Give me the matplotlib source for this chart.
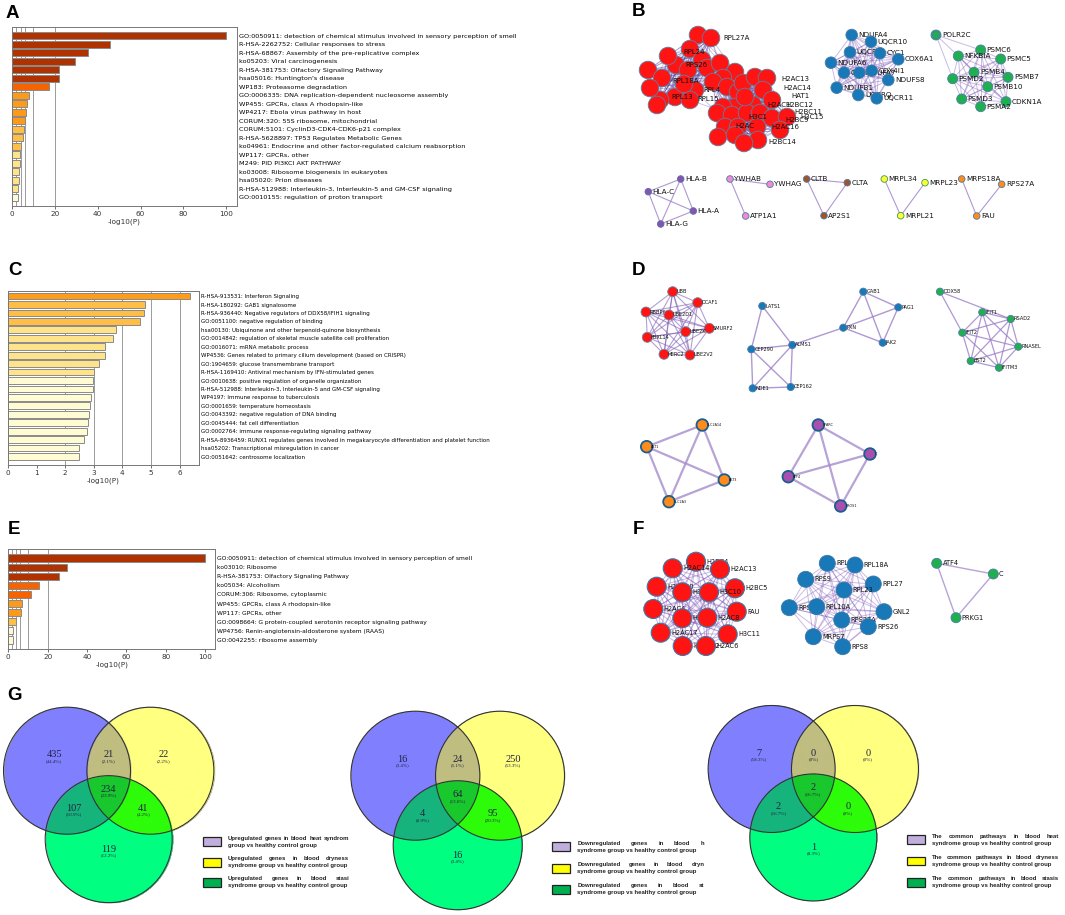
import itertools
import numpy as np
import matplotlib
matplotlib.use("Agg")
import matplotlib.pyplot as plt
from matplotlib.patches import Circle, Rectangle

W, H = 1065, 915

# ================= DATA: enrichment bars ===================

a_terms = [
    "GO:0050911: detection of chemical stimulus involved in sensory perception of smell",
    "R-HSA-2262752: Cellular responses to stress",
    "R-HSA-68867: Assembly of the pre-replicative complex",
    "ko05203: Viral carcinogenesis",
    "R-HSA-381753: Olfactory Signaling Pathway",
    "hsa05016: Huntington's disease",
    "WP183: Proteasome degradation",
    "GO:0006335: DNA replication-dependent nucleosome assembly",
    "WP455: GPCRs, class A rhodopsin-like",
    "WP4217: Ebola virus pathway in host",
    "CORUM:320: 55S ribosome, mitochondrial",
    "CORUM:5101: CyclinD3-CDK4-CDK6-p21 complex",
    "R-HSA-5628897: TP53 Regulates Metabolic Genes",
    "ko04961: Endocrine and other factor-regulated calcium reabsorption",
    "WP117: GPCRs, other",
    "M249: PID PI3KCI AKT PATHWAY",
    "ko03008: Ribosome biogenesis in eukaryotes",
    "hsa05020: Prion diseases",
    "R-HSA-512988: Interleukin-3, Interleukin-5 and GM-CSF signaling",
    "GO:0010155: regulation of proton transport",
]
a_vals = [100, 45.7, 35.6, 29.2, 22.1, 21.8, 17.3, 8.1, 7.2, 6.5,
          6.2, 5.6, 5.0, 4.4, 3.7, 3.7, 3.4, 3.1, 3.0, 3.0]
a_cols = ["#B03200"] * 6 + ["#F76300"] + ["#FD9A1A"] * 4 + ["#FFBE45"] * 3 + ["#FFE38A"] * 5 + ["#FFF7D6"]

c_terms = [
    "R-HSA-913531: Interferon Signaling",
    "R-HSA-180292: GAB1 signalosome",
    "R-HSA-936440: Negative regulators of DDX58/IFIH1 signaling",
    "GO:0051100: negative regulation of binding",
    "hsa00130: Ubiquinone and other terpenoid-quinone biosynthesis",
    "GO:0014842: regulation of skeletal muscle satellite cell proliferation",
    "GO:0016071: mRNA metabolic process",
    "WP4536: Genes related to primary cilium development (based on CRISPR)",
    "GO:1904659: glucose transmembrane transport",
    "R-HSA-1169410: Antiviral mechanism by IFN-stimulated genes",
    "GO:0010638: positive regulation of organelle organization",
    "R-HSA-512988: Interleukin-3, Interleukin-5 and GM-CSF signaling",
    "WP4197: Immune response to tuberculosis",
    "GO:0001659: temperature homeostasis",
    "GO:0043392: negative regulation of DNA binding",
    "GO:0045444: fat cell differentiation",
    "GO:0002764: immune response-regulating signaling pathway",
    "R-HSA-8936459: RUNX1 regulates genes involved in megakaryocyte differentiation and platelet function",
    "hsa05202: Transcriptional misregulation in cancer",
    "GO:0051642: centrosome localization",
]
c_vals = [6.35, 4.79, 4.75, 4.60, 3.77, 3.68, 3.40, 3.38, 3.20, 3.02,
          2.98, 2.99, 2.91, 2.88, 2.84, 2.81, 2.75, 2.65, 2.50, 2.49]
c_cols = ["#FF9C1A"] + ["#FFBE45"] * 3 + ["#FFE38A"] * 6 + ["#FFFBD2"] * 10

e_terms = [
    "GO:0050911: detection of chemical stimulus involved in sensory perception of smell",
    "ko03010: Ribosome",
    "R-HSA-381753: Olfactory Signaling Pathway",
    "ko05034: Alcoholism",
    "CORUM:306: Ribosome, cytoplasmic",
    "WP455: GPCRs, class A rhodopsin-like",
    "WP117: GPCRs, other",
    "GO:0098664: G protein-coupled serotonin receptor signaling pathway",
    "WP4756: Renin-angiotensin-aldosterone system (RAAS)",
    "GO:0042255: ribosome assembly",
]
e_vals = [100, 30.0, 25.6, 15.6, 11.4, 6.8, 6.6, 4.1, 2.5, 2.4]
e_cols = ["#B03200"] * 3 + ["#F76300"] * 2 + ["#FD9A1A"] * 2 + ["#FFBE45"] + ["#FFF7D6"] * 2

# ================= DATA: networks (pixel layout) ===================

b_red_x = [698, 711, 690, 702, 676, 648, 662, 688, 707, 720, 735, 723, 695, 675, 660, 657, 690, 668, 650, 684,
           713, 727, 738, 743, 755, 767, 763, 772, 753, 735, 723, 717, 732, 747, 760, 772, 725, 738, 757, 718,
           735, 758, 787, 745, 780, 744]
b_red_y = [35, 38, 49, 60, 65, 70, 78, 70, 68, 63, 72, 78, 90, 97, 100, 105, 100, 56, 88, 84,
           82, 87, 92, 83, 77, 78, 90, 100, 105, 107, 107, 113, 115, 113, 113, 118, 127, 127, 127, 137,
           135, 140, 117, 97, 130, 143]
b_red_labels = [("RPL27A", 723, 38), ("RPL24", 683, 52), ("RPS26", 685, 65), ("RPL18A", 672, 81),
                ("RPL13", 671, 97), ("RPL15", 697, 99), ("RPL4", 703, 90), ("H2AC13", 781, 79),
                ("H2AC14", 783, 88), ("HAT1", 791, 96), ("H2BC12", 785, 105), ("H2BC11", 794, 112),
                ("H3C15", 800, 117), ("H2BC9", 785, 120), ("H2AC1", 767, 105), ("H3C1", 748, 117),
                ("H2AC16", 771, 127), ("H2BC14", 768, 142), ("H2AC", 735, 126)]
b_red_split = 20   # first nodes: ribosomal group, rest: histone group

b_blue = [("NDUFA4", 851.7, 35), ("UQCR10", 871, 41.7), ("UQCRH", 850, 52.3), ("CYC1", 880, 53.3),
          ("COX6A1", 898.3, 59.3), ("NDUFA6", 831, 62.7), ("COX6C", 844, 72.7), ("NDUFA7", 859.3, 72.7),
          ("COX4I1", 871.7, 70.7), ("NDUFS8", 888.3, 80), ("NDUFB1", 836.7, 87.7), ("UQCRQ", 858.3, 95),
          ("UQCR11", 876.7, 98.3)]
b_green = [("PSMC6", 980.7, 50), ("NFKBIA", 958.3, 56), ("PSMC5", 1000.7, 59), ("PSMB4", 974, 72.3),
           ("PSMB7", 1008, 77.3), ("PSMD2", 952.7, 78.7), ("PSMB10", 987.7, 86.7), ("PSMD3", 961.7, 99),
           ("CDKN1A", 1006, 101.7), ("PSMA2", 980.7, 106.7)]
b_polr = [("POLR2C", 936, 35)]
b_polr_edges = [("POLR2C", "NFKBIA"), ("POLR2C", "PSMD2"), ("POLR2C", "PSMC6")]

b_hla = [("HLA-B", 680.7, 179), ("HLA-C", 648.3, 191.7), ("HLA-A", 693.3, 211), ("HLA-G", 660.7, 224)]
b_hla_edges = [("HLA-C", "HLA-B"), ("HLA-C", "HLA-A"), ("HLA-B", "HLA-A"), ("HLA-B", "HLA-G"),
               ("HLA-G", "HLA-A"), ("HLA-C", "HLA-G")]
b_ywha = [("YWHAB", 730, 179), ("YWHAG", 770, 184.3), ("ATP1A1", 745.7, 216)]
b_ywha_edges = [("YWHAB", "YWHAG"), ("YWHAB", "ATP1A1")]
b_clt = [("CLTB", 806.7, 179), ("CLTA", 847.3, 182.7), ("AP2S1", 824, 215.7)]
b_clt_edges = [("CLTB", "CLTA"), ("CLTB", "AP2S1"), ("CLTA", "AP2S1")]
b_mrpl = [("MRPL34", 884.3, 179), ("MRPL23", 925, 182.7), ("MRPL21", 900.7, 215.7)]
b_mrpl_edges = [("MRPL34", "MRPL21"), ("MRPL23", "MRPL21")]
b_rps = [("MRPS18A", 961.7, 179), ("RPS27A", 1001.7, 184.3), ("FAU", 976.7, 216)]
b_rps_edges = [("MRPS18A", "FAU"), ("RPS27A", "FAU")]

d_red = [("UBB", 672.7, 291.7), ("DCAF1", 697.7, 302.7), ("RBBP6", 646, 312), ("UBE2D1", 669, 315),
         ("SMURF2", 709.3, 328.3), ("UBE2K", 685.7, 331.7), ("FBXL14", 647.3, 337.3),
         ("HERC2", 664, 354.3), ("UBE2V2", 690, 355)]
d_blue = [("LATS1", 762.3, 306), ("CEP290", 751.3, 349.3), ("ALMS1", 792.3, 345), ("NDE1", 752.7, 388.3),
          ("CEP162", 790.7, 387), ("PXN", 843.3, 327.7), ("GAB1", 863.3, 291.7), ("PAG1", 898.3, 307.3),
          ("JAK2", 882.7, 342.7)]
d_blue_edges = [("LATS1", "CEP290"), ("LATS1", "ALMS1"), ("CEP290", "ALMS1"), ("CEP290", "NDE1"),
                ("CEP290", "CEP162"), ("ALMS1", "NDE1"), ("ALMS1", "CEP162"), ("NDE1", "CEP162"),
                ("ALMS1", "PXN"), ("PXN", "PAG1"), ("GAB1", "PXN"), ("GAB1", "PAG1"), ("GAB1", "JAK2"),
                ("PAG1", "JAK2"), ("PXN", "JAK2")]
d_green = [("IFIT1", 982.3, 312.3), ("RSAD2", 1010.7, 319), ("IFIT2", 962.3, 332.7),
           ("RNASEL", 1018.3, 346.7), ("BST2", 970.7, 361), ("IFITM3", 999, 367.7)]
d_ddx = [("DDX58", 940, 291.7)]
d_ddx_edges = [("DDX58", "RSAD2"), ("DDX58", "IFIT2")]
d_orange = [("AKT1", 646.7, 446.7), ("SLC2A14", 702.3, 425), ("AKT3", 724.3, 480), ("SLC2A3", 669, 501.7)]
d_purple = [("SPARC", 818.3, 425), ("C", 870, 454), ("ATF4", 788.3, 476.7), ("PROS1", 840.7, 506)]

f_red = [("H2BC4", 696, 561.7), ("H2AC14", 672.7, 568.3), ("H2AC13", 720, 569.3), ("H2AC20", 656.7, 586.7),
         ("H2BC5", 735, 588.3), ("H3C1", 682.3, 592.3), ("H3C10", 709, 592.3), ("H2AC4", 653.3, 609),
         ("FAU", 736.7, 611.7), ("H3C12", 682.3, 618.3), ("H2AC8", 707.3, 617.7), ("H2AC17", 660.7, 632.7),
         ("H3C11", 727.7, 634.3), ("H2BC12", 682.7, 646), ("H2AC6", 706, 646)]
f_blue = [("RPL31", 827.3, 563.3), ("RPL18A", 855, 565), ("RPS9", 805.7, 579.3), ("RPL27", 873.3, 584),
          ("RPL23", 844, 590), ("RPS15", 789.3, 607.7), ("RPL10A", 816.7, 606.7), ("GNL2", 884, 611.7),
          ("RPS27A", 841.7, 620), ("RPS26", 868.3, 626.7), ("MRPS7", 813.3, 636.7), ("RPS8", 842.7, 646.7)]
f_green = [("ATF4", 936.7, 563.3), ("C", 993.3, 574), ("PRKG1", 956, 617.7)]

# ================= DATA: Venn ===================

venn_up = [435, 21, 22, 107, 234, 41, 119]      # A, AB, B, AC, ABC, BC, C
venn_down = [16, 24, 250, 4, 64, 95, 16]
venn_path = [7, 0, 0, 2, 2, 0, 1]
leg_up = ["Upregulated genes in blood heat syndrom|group vs healthy control group",
          "Upregulated genes in blood dryness|syndrome group vs healthy control group",
          "Upregulated genes in blood stasi|syndrome group vs healthy control group"]
leg_down = ["Downregulated genes in blood h|syndrome group vs healthy control group",
            "Downregulated genes in blood dryn|syndrome group vs healthy control group",
            "Downregulated genes in blood st|syndrome group vs healthy control group"]
leg_path = ["The common pathways in blood heat|syndrome group vs healthy control group",
            "The common pathways in blood dryness|syndrome group vs healthy control group",
            "The common pathways in blood stasis|syndrome group vs healthy control group"]

# ================= FIGURE ===================

fig = plt.figure(figsize=(W / 100, H / 100), dpi=100)


def px_axes(l, t, r, b):
    return fig.add_axes([l / W, 1 - b / H, (r - l) / W, (b - t) / H])


def bar_panel(box, terms, vals, cols, xmax, ticks, grid, ylim, fs):
    ax = px_axes(*box)
    y = np.arange(len(vals))
    for g in grid:
        ax.axvline(g, color="#9a9a9a", lw=0.7, zorder=0)
    ax.barh(y, vals, height=0.8, color=cols, edgecolor="#8a8a8a", lw=0.7, zorder=2)
    ax.set_xlim(0, xmax)
    ax.set_ylim(*ylim)
    ax.set_yticks(y)
    ax.set_yticklabels(terms, fontsize=fs)
    ax.yaxis.set_ticks_position("right")
    ax.tick_params(axis="y", length=0, pad=1.5)
    ax.set_xticks(ticks)
    ax.tick_params(axis="x", labelsize=5.2, length=2, width=0.5, pad=1.5, colors="#333333")
    ax.set_xlabel("-log10(P)", fontsize=5.2, labelpad=1.5, color="#333333")
    for s in ax.spines.values():
        s.set_color("#777777")
        s.set_linewidth(0.7)
    return ax


bar_panel((12, 27.3, 237, 205.7), a_terms, a_vals, a_cols, 105, [0, 20, 40, 60, 80, 100],
          [2, 4, 6, 10, 20], (20, -1), 4.65)
bar_panel((8, 291, 199, 465), c_terms, c_vals, c_cols, 6.68, [0, 1, 2, 3, 4, 5, 6],
          [2, 3, 4, 5, 6], (20, -0.6), 3.98)
bar_panel((8.3, 549, 215, 649), e_terms, e_vals, e_cols, 105, [0, 20, 40, 60, 80, 100],
          [2, 4, 6, 10, 20], (10, -1), 4.3)

# overlay in pixel coordinates for networks, venns and letters
ov = fig.add_axes([0, 0, 1, 1])
ov.set_xlim(0, W)
ov.set_ylim(H, 0)
ov.axis("off")
ov.patch.set_alpha(0)


def draw_net(nodes, edges, color, r, ec="#4a7ca8", elw=0.6, ecol="#9b7fc8", lw=1.0,
             ealpha=0.8, fs=5.0, dx=None, labels=True):
    pos = {n: (x, y) for n, x, y in nodes}
    for a, b in edges:
        if isinstance(a, int):
            a, b = nodes[a][0], nodes[b][0]
        ov.plot([pos[a][0], pos[b][0]], [pos[a][1], pos[b][1]], color=ecol, lw=lw,
                alpha=ealpha, zorder=2, solid_capstyle="round")
    off = r + 0.8 if dx is None else dx
    for i, (n, x, y) in enumerate(nodes):
        ov.add_patch(Circle((x, y), r, fc=color, ec=ec, lw=elw, zorder=10 + 2 * i))
        if labels and n:
            ov.text(x + off, y, n, fontsize=fs, va="center", ha="left", color="#111111",
                    zorder=11 + 2 * i)


def clique(n):
    return list(itertools.combinations(range(n), 2))


# --- B ---
b_red_nodes = [("r%d" % i, x, y) for i, (x, y) in enumerate(zip(b_red_x, b_red_y))]
b_red_edges = list(itertools.combinations(range(b_red_split), 2)) + \
    list(itertools.combinations(range(b_red_split, len(b_red_x)), 2)) + [(10, 20), (11, 21), (12, 31), (16, 32)]
draw_net(b_red_nodes, b_red_edges, "#FF1414", 8.8, ec="#5f7fa0", elw=0.6, ecol="#3f2a95",
         lw=0.6, ealpha=0.3, labels=False)
for t, x, y in b_red_labels:
    ov.text(x, y, t, fontsize=5, va="center", ha="left", color="#111111", zorder=200)

draw_net(b_blue, clique(len(b_blue)), "#1878B8", 5.8, ecol="#8a68c0", lw=0.7, ealpha=0.45, fs=5.2)
draw_net(b_polr + b_green, [(i + 1, j + 1) for i, j in clique(len(b_green))] + b_polr_edges,
         "#20AF4E", 5.0, ecol="#8a68c0", lw=0.7, ealpha=0.45, fs=5.2)
ov.add_patch(Circle(b_polr[0][1:], 3.3, fc="#20AF4E", ec="#4a7ca8", lw=0.6, zorder=90))

draw_net(b_hla, b_hla_edges, "#8E4FB0", 3.3, lw=0.8, fs=5.2)
draw_net(b_ywha, b_ywha_edges, "#F08CD0", 3.3, lw=0.8, fs=5.2)
draw_net(b_clt, b_clt_edges, "#A5522A", 3.3, lw=0.8, fs=5.2)
draw_net(b_mrpl, b_mrpl_edges, "#FFFF33", 3.3, ec="#3a9a50", lw=0.8, fs=5.2)
draw_net(b_rps, b_rps_edges, "#FF8C1A", 3.3, lw=0.8, fs=5.2)

# --- D ---
draw_net(d_red, clique(len(d_red)), "#FF1414", 5.0, ec="#6c8ba8", ecol="#8060b8", lw=0.8,
         ealpha=0.6, fs=3.6, dx=3.5)
draw_net(d_blue, d_blue_edges, "#1878B8", 3.6, ecol="#9b7fc8", lw=1.0, fs=3.6, dx=3.0)
draw_net(d_ddx + d_green, [(i + 1, j + 1) for i, j in clique(len(d_green))] + d_ddx_edges,
         "#20AF4E", 3.6, ecol="#9b7fc8", lw=0.9, fs=3.6, dx=3.0)
draw_net(d_orange, clique(4), "#FF8C1A", 5.8, ec="#1a5e8e", elw=1.3, ecol="#a58ccc", lw=1.6,
         fs=2.4, dx=4.5)
draw_net(d_purple, clique(4), "#A84FB0", 5.8, ec="#1a5e8e", elw=1.3, ecol="#a58ccc", lw=1.6,
         fs=2.4, dx=4.5)

# --- F ---
draw_net(f_red, clique(len(f_red)), "#FF1414", 9.5, ec="#3a78a8", elw=0.8, ecol="#7d55b8",
         lw=0.7, ealpha=0.4, fs=4.8)
draw_net(f_blue, clique(len(f_blue)), "#1878B8", 8.0, ec="#3a78a8", elw=0.6, ecol="#7d55b8",
         lw=0.7, ealpha=0.4, fs=4.8)
draw_net(f_green, clique(3), "#20AF4E", 5.0, ecol="#a58ccc", lw=1.0, fs=4.8)

# --- G: venns ---
region_rgb = {1: (128, 128, 255), 2: (255, 255, 128), 4: (0, 255, 128), 3: (192, 189, 128),
              5: (22, 180, 125), 6: (45, 252, 10), 7: (25, 200, 45)}
txt_off = [(-55, -16), (0, -16), (55, -16), (-35, 38), (0, 19), (35, 38), (0, 79)]
renderer = fig.canvas.get_renderer()


def text_w(s, fs):
    t = ov.text(0, 0, s, fontsize=fs, fontweight="bold", family="Liberation Sans")
    w = t.get_window_extent(renderer).width
    t.remove()
    return w


def venn(cx, cy, r, vals, legend, lx, ly, colw):
    ca, cb, cc = (cx - 42 * r / 64, cy), (cx + 42 * r / 64, cy), (cx, cy + 69 * r / 64)
    x0, x1 = ca[0] - r - 2, cb[0] + r + 2
    y0, y1 = cy - r - 2, cc[1] + r + 2
    xs = np.arange(x0, x1, 0.5)
    ys = np.arange(y0, y1, 0.5)
    gx, gy = np.meshgrid(xs, ys)
    code = np.zeros(gx.shape, int)
    for bit, c in zip([1, 2, 4], [ca, cb, cc]):
        code += bit * (((gx - c[0]) ** 2 + (gy - c[1]) ** 2) <= r * r)
    img = np.zeros(gx.shape + (4,))
    for k, rgb in region_rgb.items():
        img[code == k] = [v / 255 for v in rgb] + [1]
    ov.imshow(img, extent=(x0, x1, y1, y0), origin="upper", aspect="auto",
              interpolation="antialiased", zorder=1)
    for c in [ca, cb, cc]:
        ov.add_patch(Circle(c, r, fc="none", ec="#333333", lw=0.8, zorder=3))
    total = sum(vals)
    for v, (dx, dy) in zip(vals, txt_off):
        s = r / 64
        ov.text(cx + dx * s, cy + dy * s, str(v), fontsize=7.5, family="Liberation Serif",
                ha="center", va="center", color="#222244", zorder=4)
        pct = "(0%)" if v == 0 else "(%.1f%%)" % (v / total * 100)
        ov.text(cx + dx * s, cy + dy * s + 6, pct, fontsize=3.6, family="Liberation Serif",
                ha="center", va="center", color="#222244", zorder=4)
    boxcols = ["#C0AEDC", "#FFFF00", "#00B050"]
    fs = 4.3
    for i, (entry, col) in enumerate(zip(legend, boxcols)):
        by = ly[i]
        ov.add_patch(Rectangle((lx, by - 4.3), 17.5, 8.6, fc=col, ec="#222222", lw=0.9, zorder=4))
        l1, l2 = entry.split("|")
        tx = lx + 25
        ov.text(tx, by + 3.6, l2, fontsize=fs, fontweight="bold", family="Liberation Sans",
                ha="left", va="center", color="#222222", zorder=4)
        words = l1.split()
        ws = [text_w(w_, fs) for w_ in words]
        gap = max((colw - sum(ws)) / (len(words) - 1), text_w("a", fs) * 0.55)
        xx = tx
        for w_, ww in zip(words, ws):
            ov.text(xx, by - 3.6, w_, fontsize=fs, fontweight="bold", family="Liberation Sans",
                    ha="left", va="center", color="#222222", zorder=4)
            xx += ww + gap


venn(108.7, 770.7, 63.5, venn_up, leg_up, 203, [841.7, 862.3, 882.3], 121)
venn(457.7, 775.7, 64.5, venn_down, leg_down, 552.3, [846.7, 868.3, 889.3], 127)
venn(813.3, 769.0, 63.5, venn_path, leg_path, 907.3, [839.7, 861.0, 882.3], 127)

# --- panel letters ---
for letter, x, y in [("A", 6, 5), ("B", 632, 3), ("C", 8, 262), ("D", 632, 262),
                     ("E", 8, 521), ("F", 633, 521), ("G", 7, 687)]:
    ov.text(x, y, letter, fontsize=13.5, fontweight="bold", family="Liberation Sans",
            ha="left", va="top", color="black", zorder=300)

ov.set_xlim(0, W)
ov.set_ylim(H, 0)
fig.savefig("out.png", dpi=100)
